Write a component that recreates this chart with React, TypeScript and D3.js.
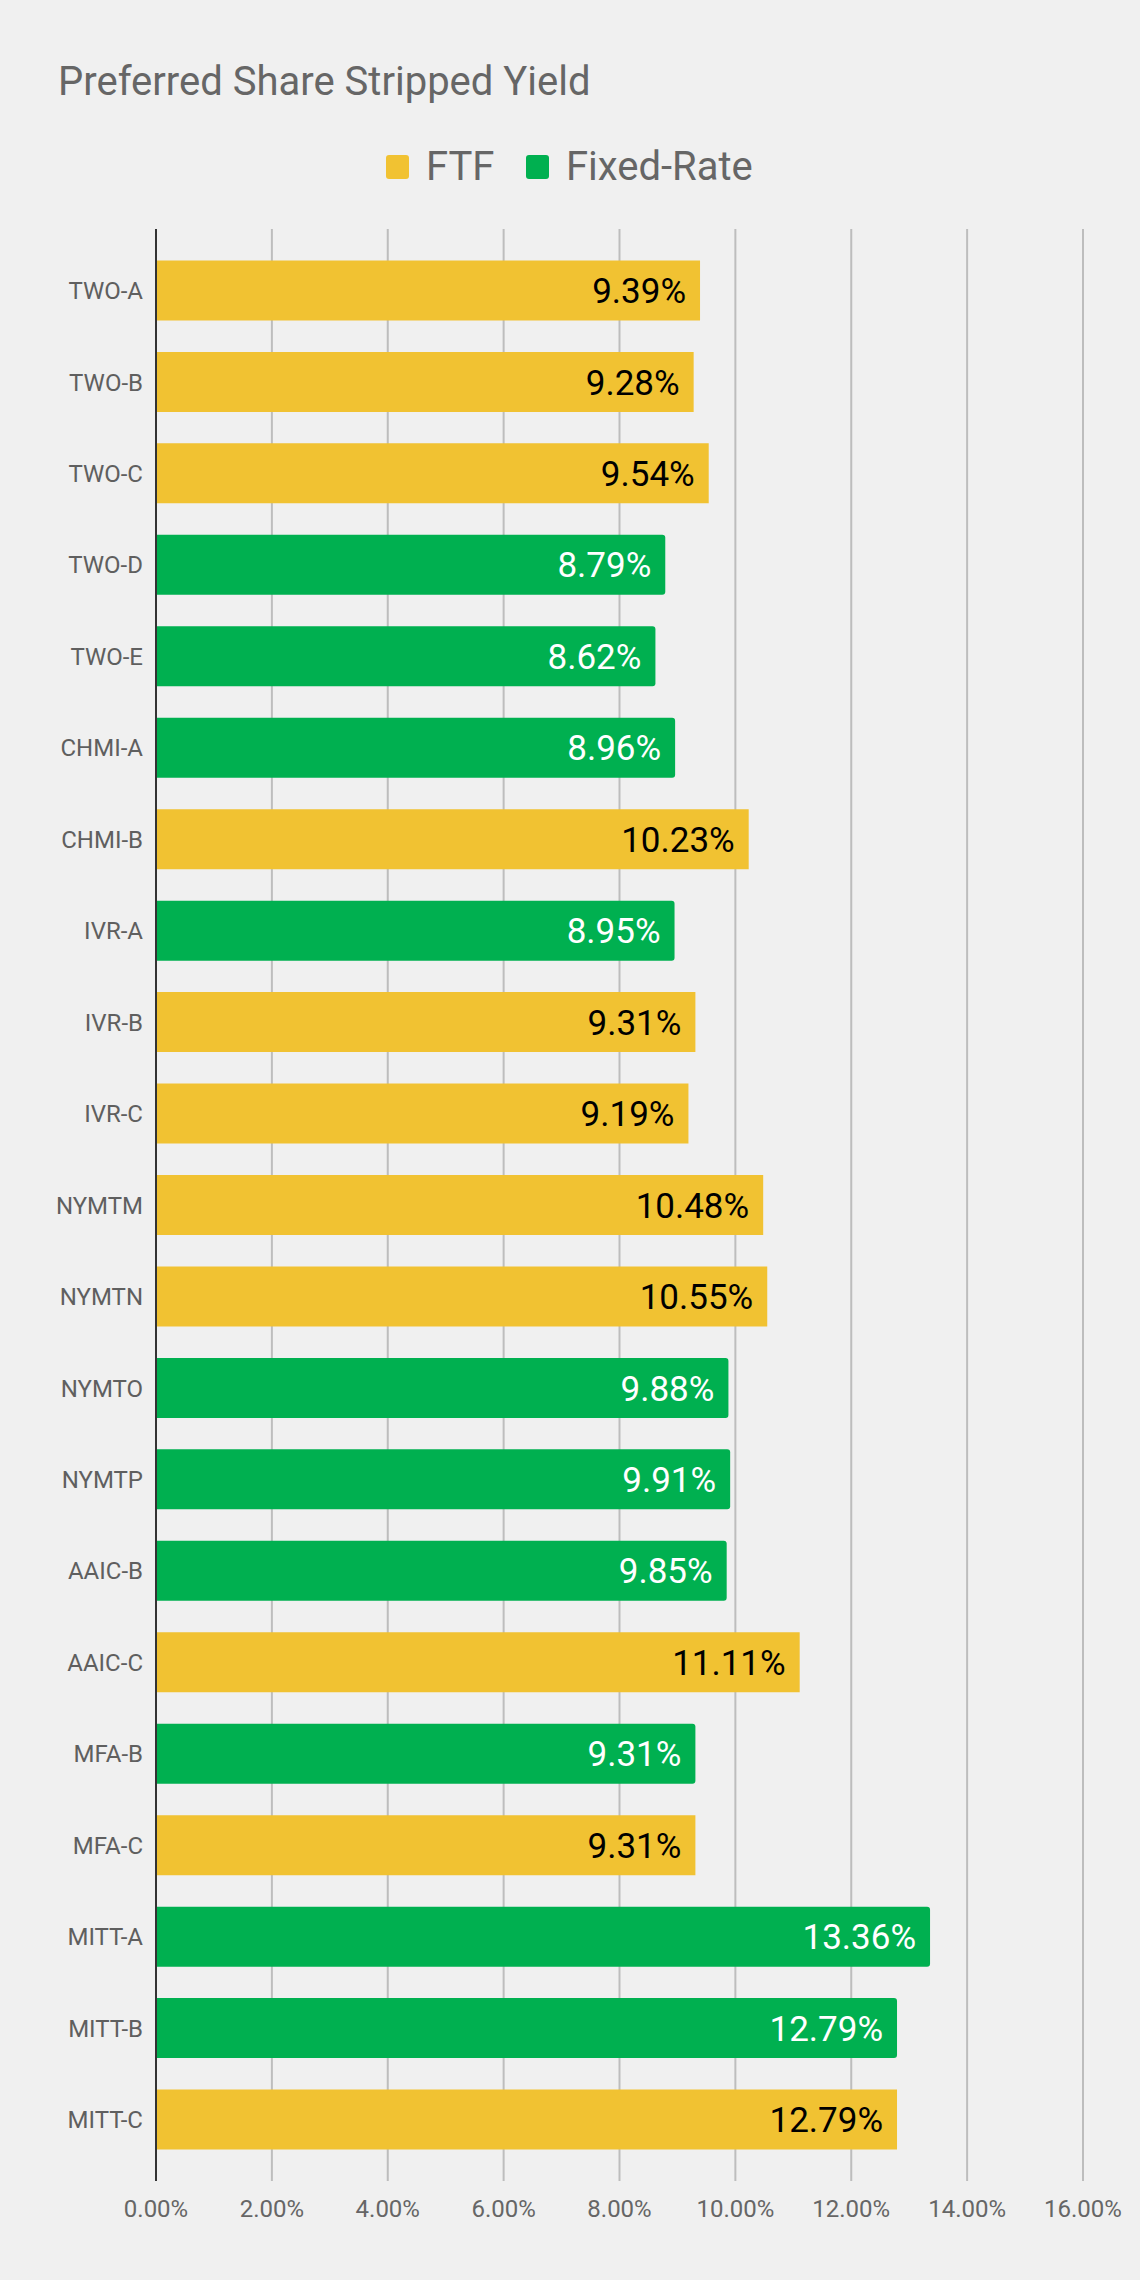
import React, { useEffect, useRef } from 'react';
import { select, scaleLinear, scaleBand, range } from 'd3';

const categories = [
  'TWO-A', 'TWO-B', 'TWO-C', 'TWO-D', 'TWO-E', 'CHMI-A', 'CHMI-B', 'IVR-A', 'IVR-B', 'IVR-C',
  'NYMTM', 'NYMTN', 'NYMTO', 'NYMTP', 'AAIC-B', 'AAIC-C', 'MFA-B', 'MFA-C', 'MITT-A', 'MITT-B', 'MITT-C',
];
const yields = [
  9.39, 9.28, 9.54, 8.79, 8.62, 8.96, 10.23, 8.95, 9.31, 9.19,
  10.48, 10.55, 9.88, 9.91, 9.85, 11.11, 9.31, 9.31, 13.36, 12.79, 12.79,
];
// 'FTF' = fixed-to-floating, 'FIX' = fixed-rate
const rateType = [
  'FTF', 'FTF', 'FTF', 'FIX', 'FIX', 'FIX', 'FTF', 'FIX', 'FTF', 'FTF',
  'FTF', 'FTF', 'FIX', 'FIX', 'FIX', 'FTF', 'FIX', 'FTF', 'FIX', 'FIX', 'FTF',
];
const seriesNames = ['FTF', 'Fixed-Rate'];
const xTicks = [0, 2, 4, 6, 8, 10, 12, 14, 16];

const W = 1140;
const H = 2280;
const FONT = 'Roboto, "Noto Sans", Arial, sans-serif';
const YELLOW = '#f1c232';
const GREEN = '#00b050';

const App: React.FC = () => {
  const svgRef = useRef<SVGSVGElement>(null);

  useEffect(() => {
    if (!svgRef.current) return;
    const svg = select(svgRef.current);
    svg.selectAll('*').remove();

    svg.append('rect').attr('width', W).attr('height', H).attr('fill', '#f0f0f0');

    const left = 156;
    const right = 1083;
    const top = 229;
    const bottom = 2181;

    const x = scaleLinear().domain([0, 16]).range([left, right]);
    const y = scaleBand<string>().domain(categories).range([top, bottom]).padding(0.344);

    // title
    svg.append('text')
      .attr('x', 58).attr('y', 95)
      .attr('font-family', FONT).attr('font-size', 40).attr('fill', '#666')
      .text('Preferred Share Stripped Yield');

    // legend
    const legendX = [386, 526];
    seriesNames.forEach((name, i) => {
      const g = svg.append('g').attr('transform', `translate(${legendX[i]},0)`);
      g.append('rect')
        .attr('x', 0).attr('y', 155).attr('width', 23).attr('height', 24).attr('rx', 3)
        .attr('fill', i === 0 ? YELLOW : GREEN);
      g.append('text')
        .attr('x', 40).attr('y', 180)
        .attr('font-family', FONT).attr('font-size', 40).attr('fill', '#666')
        .text(name);
    });

    // gridlines
    svg.append('g').selectAll('line')
      .data(xTicks.slice(1))
      .join('line')
      .attr('x1', d => x(d)).attr('x2', d => x(d))
      .attr('y1', top).attr('y2', bottom)
      .attr('stroke', '#bdbdbd').attr('stroke-width', 2);

    // x tick labels
    svg.append('g').selectAll('text')
      .data(xTicks)
      .join('text')
      .attr('x', d => x(d)).attr('y', 2217)
      .attr('text-anchor', 'middle')
      .attr('font-family', FONT).attr('font-size', 24).attr('fill', '#666')
      .text(d => `${d.toFixed(2)}%`);

    // bars
    const bw = y.bandwidth();
    const barPath = (i: number) => {
      const x0 = x(0);
      const x1 = x(yields[i]);
      const y0 = y(categories[i])!;
      const r = rateType[i] === 'FIX' ? 3 : 0;
      return `M${x0},${y0}H${x1 - r}Q${x1},${y0} ${x1},${y0 + r}V${y0 + bw - r}Q${x1},${y0 + bw} ${x1 - r},${y0 + bw}H${x0}Z`;
    };
    svg.append('g').selectAll('path')
      .data(range(categories.length))
      .join('path')
      .attr('d', i => barPath(i))
      .attr('fill', i => (rateType[i] === 'FIX' ? GREEN : YELLOW));

    // value labels
    svg.append('g').selectAll('text')
      .data(range(categories.length))
      .join('text')
      .attr('x', i => x(yields[i]) - 14)
      .attr('y', i => y(categories[i])! + bw / 2)
      .attr('dy', '0.36em')
      .attr('text-anchor', 'end')
      .attr('font-family', FONT).attr('font-size', 35)
      .attr('fill', i => (rateType[i] === 'FIX' ? '#ffffff' : '#000000'))
      .text(i => `${yields[i].toFixed(2)}%`);

    // category labels
    svg.append('g').selectAll('text')
      .data(categories)
      .join('text')
      .attr('x', left - 13)
      .attr('y', d => y(d)! + bw / 2)
      .attr('dy', '0.36em')
      .attr('text-anchor', 'end')
      .attr('font-family', FONT).attr('font-size', 24).attr('fill', '#5f5f5f')
      .text(d => d);

    // baseline axis
    svg.append('line')
      .attr('x1', left).attr('x2', left)
      .attr('y1', top).attr('y2', bottom)
      .attr('stroke', '#333').attr('stroke-width', 2);
  }, []);

  return (
    <div style={{ position: 'absolute', left: 0, top: 0 }}>
      <svg ref={svgRef} width={W} height={H} style={{ display: 'block' }} />
    </div>
  );
};

export default App;
